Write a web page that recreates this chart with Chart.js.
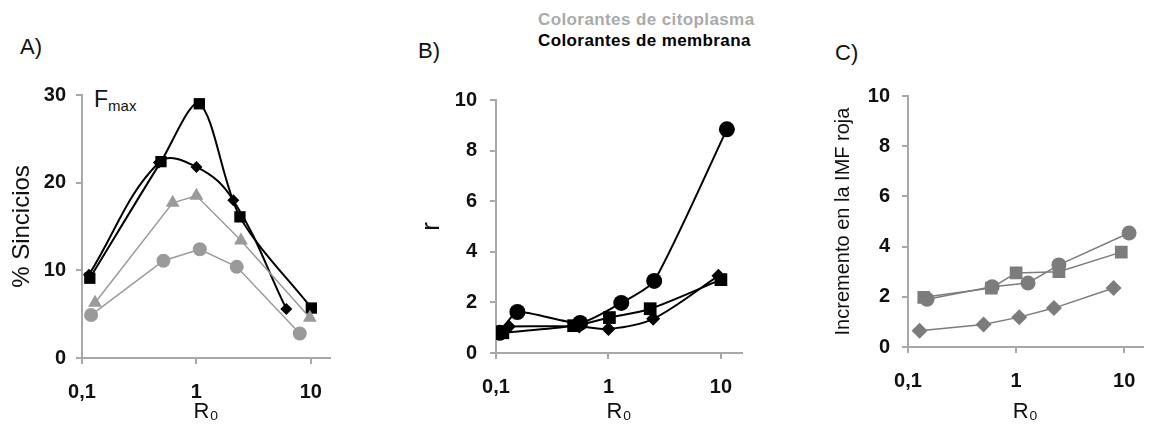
<!DOCTYPE html>
<html lang="es">
<head>
<meta charset="UTF-8">
<title>Fusión: Fmax, r e IMF roja frente a R0</title>
<script src="https://cdn.jsdelivr.net/npm/chart.js"></script>
<style>
  html, body { margin: 0; padding: 0; background: #fff; }
  body { width: 1152px; height: 430px; position: relative; overflow: hidden; font-family: "Liberation Sans", Arial, sans-serif; }
  .box { position: absolute; top: 0; height: 430px; }
  .lbl { position: absolute; font-size: 22px; color: #111; }
  .leg { position: absolute; font-family: "Liberation Sans", Arial, sans-serif; font-weight: bold; font-size: 17px; letter-spacing: 0.4px; white-space: nowrap; }
  .fmax { position: absolute; font-size: 23px; color: #111; }
  .fmax sub { font-size: 15px; vertical-align: -4px; }
</style>
</head>
<body>
<div class="lbl" style="left:20px; top:34px;">A)</div>
<div class="lbl" style="left:418px; top:38px;">B)</div>
<div class="lbl" style="left:835px; top:40px;">C)</div>
<div class="leg" style="left:538px; top:10px; color:#aaaaaa;">Colorantes de citoplasma</div>
<div class="leg" style="left:538px; top:31px; color:#000;">Colorantes de membrana</div>
<div class="fmax" style="left:94px; top:86px;">F<sub>max</sub></div>

<div class="box" style="left:0; width:345px;"><canvas id="chartA"></canvas></div>
<div class="box" style="left:400px; width:360px;"><canvas id="chartB"></canvas></div>
<div class="box" style="left:810px; width:342px;"><canvas id="chartC"></canvas></div>

<script>
// R0 tick labels (decimal comma)
const xTicks = [0.1, 1, 10];
const xTickLabels = ["0,1", "1", "10"];

// A) % Sincicios (Fmax)
const aSquareX = [0.117, 0.49, 1.06, 2.4, 10.1];
const aSquareY = [9.1, 22.4, 29.0, 16.1, 5.7];
const aDiamondX = [0.115, 0.47, 1.0, 2.1, 6.1];
const aDiamondY = [9.5, 22.3, 21.8, 18.0, 5.6];
const aTriangleX = [0.13, 0.62, 1.0, 2.45, 9.8];
const aTriangleY = [6.3, 17.7, 18.5, 13.4, 4.6];
const aCircleX = [0.12, 0.515, 1.07, 2.25, 8.0];
const aCircleY = [4.9, 11.1, 12.4, 10.4, 2.8];

// B) r
const bCircleX = [0.108, 0.155, 0.56, 1.3, 2.55, 11.3];
const bCircleY = [0.8, 1.62, 1.19, 1.98, 2.85, 8.84];
const bSquareX = [0.115, 0.49, 1.02, 2.35, 10.0];
const bSquareY = [0.8, 1.08, 1.4, 1.75, 2.9];
const bDiamondX = [0.13, 0.55, 1.0, 2.5, 9.5];
const bDiamondY = [1.05, 1.05, 0.95, 1.35, 3.05];

// C) Incremento en la IMF roja
const cCircleX = [0.15, 0.6, 1.29, 2.49, 11.1];
const cCircleY = [1.9, 2.4, 2.55, 3.27, 4.54];
const cSquareX = [0.14, 0.59, 1.0, 2.49, 9.4];
const cSquareY = [1.98, 2.35, 2.95, 3.0, 3.78];
const cDiamondX = [0.128, 0.5, 1.07, 2.24, 7.98];
const cDiamondY = [0.65, 0.9, 1.19, 1.55, 2.35];

const BLACK = "#000000";
const GRAY_A = "#9a9a9a";
const GRAY_C = "#7c7c7c";
const AXIS = "#a8a8a8";

function pts(xs, ys) {
  return xs.map((x, i) => ({ x: x, y: ys[i] }));
}

function series(xs, ys, color, style, radius, width, tension) {
  return {
    data: pts(xs, ys),
    borderColor: color,
    backgroundColor: color,
    pointBackgroundColor: color,
    pointBorderColor: color,
    pointBorderWidth: 0,
    pointStyle: style,
    pointRadius: radius,
    borderWidth: width,
    tension: tension
  };
}

function makeChart(id, cfg) {
  return new Chart(document.getElementById(id), {
    type: "line",
    data: { datasets: cfg.datasets },
    options: {
      responsive: true,
      maintainAspectRatio: false,
      animation: false,
      events: [],
      layout: { padding: { top: cfg.top, right: cfg.right, left: 0, bottom: 0 } },
      plugins: { legend: { display: false }, tooltip: { enabled: false } },
      scales: {
        x: {
          type: "logarithmic",
          min: 0.1,
          max: cfg.xMax,
          afterBuildTicks: s => { s.ticks = xTicks.map(v => ({ value: v })); },
          afterFit: s => { s.height = cfg.xHeight; },
          border: { color: AXIS, width: 2 },
          grid: { display: true, drawOnChartArea: false, drawTicks: true, tickLength: 6, color: AXIS, lineWidth: 2 },
          ticks: {
            autoSkip: false,
            maxRotation: 0,
            padding: cfg.xTickPad,
            color: "#111",
            font: { family: "Liberation Sans", size: 20, weight: "bold" },
            callback: v => xTickLabels[xTicks.indexOf(v)]
          },
          title: {
            display: true,
            text: "R\u2080",
            color: "#111",
            font: { family: "Liberation Sans", size: 22 },
            padding: { top: 0, bottom: 5 }
          }
        },
        y: {
          min: 0,
          max: cfg.yMax,
          afterFit: s => { s.width = cfg.yWidth; },
          border: { color: AXIS, width: 2 },
          grid: { display: true, drawOnChartArea: false, drawTicks: true, tickLength: 6, color: AXIS, lineWidth: 2 },
          ticks: {
            stepSize: cfg.yStep,
            padding: cfg.yTickPad,
            color: "#111",
            font: { family: "Liberation Sans", size: 20, weight: "bold" }
          },
          title: {
            display: true,
            text: cfg.yTitle,
            color: "#111",
            font: { family: "Liberation Sans", size: cfg.yTitleSize },
            padding: { top: cfg.yTitlePad, bottom: 0 }
          }
        }
      }
    }
  });
}

makeChart("chartA", {
  datasets: [
    series(aCircleX, aCircleY, GRAY_A, "circle", 7, 1.5, 0),
    series(aTriangleX, aTriangleY, GRAY_A, "triangle", 8, 1.5, 0),
    series(aDiamondX, aDiamondY, BLACK, "rectRot", 6, 2, 0.4),
    series(aSquareX, aSquareY, BLACK, "rect", 8, 2, 0.3)
  ],
  top: 95, right: 15, xHeight: 72, yWidth: 82, xMax: 14.7, xTickPad: 16,
  yMax: 30, yStep: 10, yTickPad: 10,
  yTitle: "% Sincicios", yTitleSize: 24, yTitlePad: 8
});

makeChart("chartB", {
  datasets: [
    series(bDiamondX, bDiamondY, BLACK, "rectRot", 7, 2, 0.3),
    series(bSquareX, bSquareY, BLACK, "rect", 9, 2, 0.3),
    series(bCircleX, bCircleY, BLACK, "circle", 8, 2, 0.2)
  ],
  top: 100, right: 18, xHeight: 77, yWidth: 96, xMax: 15.4, xTickPad: 16,
  yMax: 10, yStep: 2, yTickPad: 13,
  yTitle: "r", yTitleSize: 26, yTitlePad: 16
});

makeChart("chartC", {
  datasets: [
    series(cDiamondX, cDiamondY, GRAY_C, "rectRot", 8, 1.5, 0),
    series(cSquareX, cSquareY, GRAY_C, "rect", 9, 1.5, 0),
    series(cCircleX, cCircleY, GRAY_C, "circle", 7.5, 1.5, 0)
  ],
  top: 96, right: 0, xHeight: 83, yWidth: 98, xMax: 14.8, xTickPad: 16,
  yMax: 10, yStep: 2, yTickPad: 12,
  yTitle: "Incremento en la IMF roja", yTitleSize: 20, yTitlePad: 21
});
</script>
</body>
</html>
